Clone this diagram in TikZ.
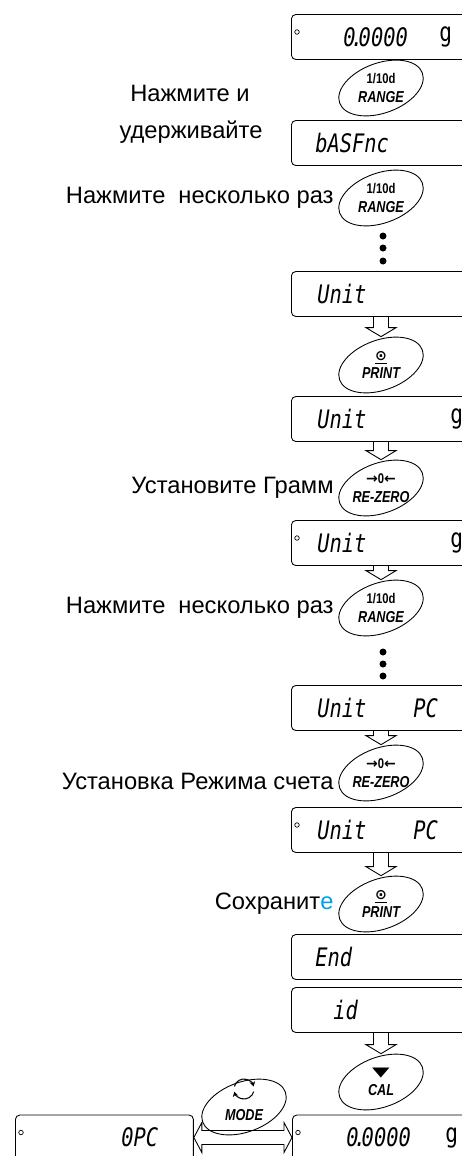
\documentclass[tikz,border=0pt]{standalone}
\usepackage{fontspec}
\usepackage{graphicx}
\setmainfont{Liberation Sans}
\newfontfamily\keyfont{Liberation Sans}[FakeStretch=0.8]
\newfontfamily\lcdfont{DejaVu Sans Mono}[FakeStretch=0.8]
\newfontfamily\symfont{DejaVu Sans}
\usetikzlibrary{positioning,calc,shapes.geometric,arrows.meta}
\definecolor{keyblue}{RGB}{0,160,233}

% two-line key caption
\newcommand{\keytext}[2]{{\keyfont\bfseries\fontsize{8}{8}\selectfont #1}\\[-1.5pt]{\keyfont\bfseries\itshape\fontsize{9}{9}\selectfont #2}}
% hollow push arrow from a display down to a key
\newcommand{\pushdown}[2]{%
  \draw[line width=0.5pt] let \p1=(#1.south), \p2=(#2.north) in
    (\x2-0.15cm,\y1) -- (\x2-0.15cm,\y2+0.18cm) -- (\x2-0.3cm,\y2+0.18cm) -- (\x2,\y2)
    -- (\x2+0.3cm,\y2+0.18cm) -- (\x2+0.15cm,\y2+0.18cm) -- (\x2+0.15cm,\y1);}

\begin{document}
\begin{tikzpicture}[x=0.02cm, y=-0.02cm,
    disp/.style={rectangle, rounded corners=2.5pt, draw, line width=0.5pt,
                 minimum width=4cm, minimum height=0.9cm, anchor=west},
    key/.style={ellipse, minimum width=1.72cm, minimum height=1.12cm,
                inner sep=0pt, align=center},
    lbl/.style={font=\fontsize{13.5}{15}\selectfont, inner sep=1pt},
    seg/.style={font=\lcdfont\itshape\fontsize{14.5}{14.5}\selectfont, inner sep=0pt, anchor=west},
    gram/.style={font=\lcdfont\fontsize{15}{15}\selectfont, inner sep=0pt, anchor=west},
    lamp/.style={circle, draw, line width=0.4pt, inner sep=0pt, minimum size=0.09cm},
    pdot/.style={circle, fill, inner sep=0pt, minimum size=0.14cm}
]
\useasboundingbox (0,0) rectangle (462,1156);

% Displays
\node[disp] (zeroA) at (291,37) {};
\node[disp] (basf) at (291,143) {};
\node[disp] (unitA) at (291,294) {};
\node[disp] (unitG) at (291,419) {};
\node[disp] (unitGs) at (291,543) {};
\node[disp] (unitP) at (291,708) {};
\node[disp] (unitPs) at (291,830) {};
\node[disp] (endd) at (291,957) {};
\node[disp] (idd) at (291,1010) {};
\node[disp, minimum width=3.56cm] (opc) at (15,1137.5) {};
\node[disp] (zeroB) at (292,1137.5) {};

% Display readings
\node[lamp] at ($(zeroA.west)+(6,-5)$) {};
\node[seg] at ($(zeroA.west)+(52,0)$) {0\kern-.18em.\kern-.18em0000};
\node[gram] at ($(zeroA.west)+(148,0)$) {g};
\node[seg] at ($(basf.west)+(24,0)$) {bASFnc};
\node[seg] at ($(unitA.west)+(26,0)$) {Unit};
\node[seg] at ($(unitG.west)+(26,0)$) {Unit};
\node[gram] at ($(unitG.west)+(159,0)$) {g};
\node[lamp] at ($(unitGs.west)+(6,-5)$) {};
\node[seg] at ($(unitGs.west)+(26,0)$) {Unit};
\node[gram] at ($(unitGs.west)+(159,0)$) {g};
\node[seg] at ($(unitP.west)+(26,0)$) {Unit};
\node[seg] at ($(unitP.west)+(122,0)$) {PC};
\node[lamp] at ($(unitPs.west)+(6,-5)$) {};
\node[seg] at ($(unitPs.west)+(26,0)$) {Unit};
\node[seg] at ($(unitPs.west)+(122,0)$) {PC};
\node[seg] at ($(endd.west)+(24,0)$) {End};
\node[seg] at ($(idd.west)+(42,0)$) {id};
\node[lamp] at ($(opc.west)+(6,-5)$) {};
\node[seg] at ($(opc.west)+(106,0)$) {0PC};
\node[lamp] at ($(zeroB.west)+(6,-5)$) {};
\node[seg] at ($(zeroB.west)+(54,0)$) {0\kern-.18em.\kern-.18em0000};
\node[gram] at ($(zeroB.west)+(153,0)$) {g};

% Keys
\node[key] (rngA) at (381,88) {\keytext{1/10d}{RANGE}};
\node[key] (rngB) at (381,198) {\keytext{1/10d}{RANGE}};
\node[key] (prtA) at (381,365) {\keytext{\underline{\symfont ⊙}}{PRINT}};
\node[key] (rezA) at (381,488) {\keytext{{\symfont →}0{\symfont ←}}{RE-ZERO}};
\node[key] (rngC) at (381,608) {\keytext{1/10d}{RANGE}};
\node[key] (rezB) at (381,773) {\keytext{{\symfont →}0{\symfont ←}}{RE-ZERO}};
\node[key] (prtB) at (381,904) {\keytext{\underline{\symfont ⊙}}{PRINT}};
\node[key] (cal) at (381,1082) {\keytext{\scalebox{1.3}[0.75]{\symfont\fontsize{10}{10}\selectfont ▼}}{CAL}};
\node[key] (mode) at (244,1107) {\keytext{\vphantom{1}}{MODE}};
\foreach \k in {rngA,rngB,prtA,rezA,rngC,rezB,prtB,cal,mode}
  \draw[line width=0.5pt, rotate around={20:(\k.center)}] (\k.center) ellipse [x radius=0.88cm, y radius=0.5cm];

% Mode symbol
\coordinate (modeicon) at ($(mode.center)+(0,-18)$);
\draw[line width=0.6pt, -{Stealth[length=2.8pt, width=3.2pt]}] ([shift={(165:0.2cm)}]modeicon) arc [start angle=165, end angle=15, radius=0.2cm];
\draw[line width=0.6pt, -{Stealth[length=2.8pt, width=3.2pt]}] ([shift={(-15:0.2cm)}]modeicon) arc [start angle=-15, end angle=-165, radius=0.2cm];

% Ellipsis dots
\foreach \y in {236,248,261} \node[pdot] at (383,\y) {};
\foreach \y in {652,664,676} \node[pdot] at (383,\y) {};

% Hollow arrows
\pushdown{unitA}{prtA}
\pushdown{unitG}{rezA}
\pushdown{unitGs}{rngC}
\pushdown{unitP}{rezB}
\pushdown{unitPs}{prtB}
\pushdown{idd}{cal}
\draw[line width=0.5pt] let \p1=(opc.east), \p2=(zeroB.west) in
  (\x1,\y1) -- (\x1+0.16cm,\y1+0.3cm) -- (\x1+0.16cm,\y1+0.14cm) -- (\x2-0.16cm,\y1+0.14cm)
  -- (\x2-0.16cm,\y1+0.3cm) -- (\x2,\y1) -- (\x2-0.16cm,\y1-0.3cm) -- (\x2-0.16cm,\y1-0.14cm)
  -- (\x1+0.16cm,\y1-0.14cm) -- (\x1+0.16cm,\y1-0.3cm) -- cycle;

% Labels
\node[lbl] (holdA) at (190,93) {Нажмите и};
\node[lbl] (holdB) at (191,132) {удерживайте};
\node[lbl, left=0.04cm of rngB] (repA) {Нажмите\hspace{0.55em}несколько раз};
\node[lbl, left=0.04cm of rezA] (gram) {Установите Грамм};
\node[lbl, left=0.04cm of rngC] (repB) {Нажмите\hspace{0.55em}несколько раз};
\node[lbl, left=0.04cm of rezB, yshift=-0.16cm] (count) {Установка Режима счета};
\node[lbl, left=0.04cm of prtB] (save) {Сохранит\textcolor{keyblue}{е}};

\end{tikzpicture}
\end{document}
